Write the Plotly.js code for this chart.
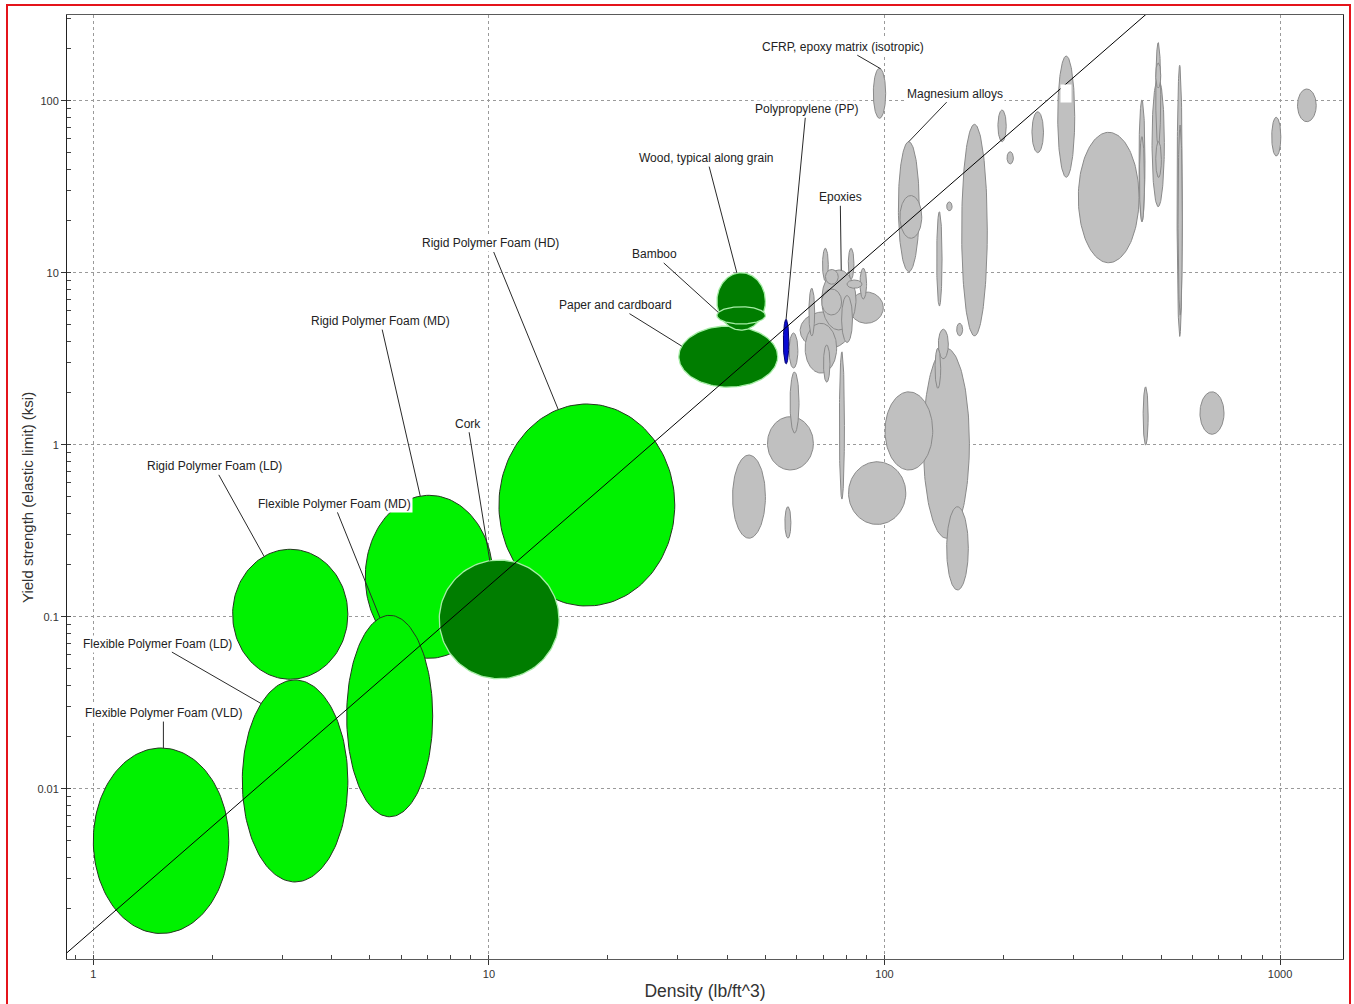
<!DOCTYPE html>
<html>
<head>
<meta charset="utf-8">
<script src="https://cdn.plot.ly/plotly-3.0.1.min.js"></script>
<style>
  html, body { margin: 0; padding: 0; background: #fff; overflow: hidden; }
  #chart { position: absolute; left: 0; top: 0; width: 1354px; height: 1004px; }
  #frame { position: absolute; left: 6px; top: 4px; width: 1341px; height: 1010px;
           border: 2px solid #e4141b; pointer-events: none; }
</style>
</head>
<body>
<div id="chart"></div>
<div id="frame"></div>
<script>
// Material property bubbles: density range (lb/ft^3) and yield strength range (ksi).
// Each bubble spans [rhoLo, rhoHi] x [sigLo, sigHi]; family picks the colour.
const matName = [
  // other materials (grey)
  "CFRP, epoxy matrix (isotropic)", "Magnesium alloys", "", "", "", "", "", "", "", "",
  "", "", "", "", "", "", "", "", "", "",
  "", "", "", "", "", "", "", "", "", "",
  "", "", "", "", "",
  // polymer / composite cluster (grey)
  "", "", "", "Epoxies", "", "", "", "", "", "", "", "", "",
  // highlighted materials
  "Flexible Polymer Foam (VLD)", "Flexible Polymer Foam (LD)", "Rigid Polymer Foam (LD)",
  "Rigid Polymer Foam (MD)", "Flexible Polymer Foam (MD)", "Rigid Polymer Foam (HD)",
  "Cork", "Paper and cardboard", "Wood, typical along grain", "Bamboo", "Polypropylene (PP)"
];
const rhoLo = [
  93.7, 108.4, 109.4, 135.5, 143.6, 156.7, 152.2, 125.3, 136.8, 134.2,
  100.3, 81.1, 143.6, 50.6, 41.3, 56.0, 76.9, 57.4, 57.7, 450.6,
  627.1, 193.5, 204.0, 235.9, 274.1, 309.0, 439.9, 441.0, 474.5, 484.9,
  484.9, 484.9, 549.0, 552.1, 952.3,
  61.2, 63.0, 81.6, 69.4, 64.4, 69.4, 77.9, 70.1, 69.7, 81.0, 86.7, 80.4, 70.9,
  1.0, 2.38, 2.25, 4.87, 4.37, 10.6, 7.49, 30.2, 37.7, 37.7, 55.5
];
const rhoHi = [
  100.7, 122.4, 124.2, 139.8, 148.2, 181.9, 157.6, 163.9, 145.0, 138.7,
  132.4, 113.2, 162.9, 66.1, 50.0, 58.0, 79.2, 60.4, 60.8, 463.9,
  721.5, 203.1, 211.7, 252.3, 302.6, 439.9, 455.4, 454.0, 509.8, 499.2,
  501.0, 499.2, 566.0, 566.0, 1004.2,
  81.8, 75.7, 99.3, 84.7, 66.6, 77.9, 83.0, 72.8, 72.1, 83.7, 90.1, 87.7, 76.4,
  2.20, 4.40, 4.40, 10.24, 7.21, 29.5, 15.04, 53.7, 50.0, 50.0, 57.3
];
const sigLo = [
  79.0, 10.14, 15.85, 6.40, 22.9, 4.29, 4.30, 0.286, 3.16, 2.13,
  0.713, 0.344, 0.143, 0.713, 0.286, 0.286, 0.483, 2.79, 1.17, 0.996,
  1.15, 57.8, 42.9, 49.9, 35.9, 11.43, 19.8, 19.8, 24.2, 54.5,
  35.8, 118.5, 4.26, 5.67, 47.7,
  3.60, 2.61, 5.08, 4.65, 4.29, 5.68, 3.93, 2.31, 8.95, 9.19, 7.03, 8.12, 8.57,
  0.00144, 0.00287, 0.0433, 0.0573, 0.00687, 0.1154, 0.0436, 2.16, 4.64, 5.03, 2.95
];
const sigHi = [
  154.3, 57.8, 28.1, 22.6, 25.8, 72.9, 5.08, 3.64, 4.69, 3.64,
  2.03, 0.796, 0.436, 1.456, 0.871, 0.436, 3.47, 4.46, 2.65, 2.17,
  2.03, 88.3, 50.5, 86.3, 182, 65.5, 101, 61.8, 135.0, 217.9,
  57.8, 165.6, 160.6, 72.2, 80.1,
  5.93, 5.08, 7.72, 10.37, 8.12, 8.04, 7.37, 3.80, 13.87, 13.87, 10.61, 9.07, 10.44,
  0.01725, 0.0429, 0.2466, 0.508, 0.1019, 1.725, 0.2136, 4.90, 10.0, 6.34, 5.36
];
const family = [
  "other", "other", "other", "other", "other", "other", "other", "other", "other", "other",
  "other", "other", "other", "other", "other", "other", "other", "other", "other", "other",
  "other", "other", "other", "other", "other", "other", "other", "other", "other", "other",
  "other", "other", "other", "other", "other",
  "other", "other", "other", "other", "other", "other", "other", "other", "other", "other", "other", "other", "other",
  "foam", "foam", "foam", "foam", "foam", "foam",
  "natural", "natural", "natural", "natural", "polymer"
];
// Grey bubble on the far right
const extraRhoLo = [1106.6], extraRhoHi = [1234.0], extraSigLo = [75.5], extraSigHi = [117.0];

// Guide line of slope 2 on the log-log plot
const guideRho = [0.85, 460];
const guideSigma = [0.001093, 320.2];

// Axis ticks
const xTickVals = [1, 10, 100, 1000];
const xTickText = ["1", "10", "100", "1000"];
const yTickVals = [0.01, 0.1, 1, 10, 100];
const yTickText = ["0.01", "0.1", "1", "10", "100"];

// ---- styling ----
const familyStyle = {
  other:   { fill: "#c0c0c0", line: "#8a8a8a", width: 1 },
  foam:    { fill: "#00f200", line: "#24361f", width: 1 },
  natural: { fill: "#007d00", line: "#a6eda6", width: 1.3 },
  polymer: { fill: "#0a0ad2", line: "#00006e", width: 1 }
};

// Callout placement: point on the bubble rim (angle, deg) and text offset (px)
const callouts = [
  { name: "CFRP, epoxy matrix (isotropic)", angle: 80,  ax: -38,  ay: -22 },
  { name: "Magnesium alloys",               angle: 90,  ax: 46,   ay: -48 },
  { name: "Polypropylene (PP)",             angle: 90,  ax: 20,   ay: -210 },
  { name: "Wood, typical along grain",      angle: 100, ax: -30,  ay: -115 },
  { name: "Epoxies",                        angle: 82,  ax: -1,   ay: -73 },
  { name: "Bamboo",                         angle: 160, ax: -64,  ay: -58 },
  { name: "Paper and cardboard",            angle: 160, ax: -66,  ay: -41 },
  { name: "Rigid Polymer Foam (HD)",        angle: 109, ax: -68,  ay: -166 },
  { name: "Rigid Polymer Foam (MD)",        angle: 98,  ax: -40,  ay: -175 },
  { name: "Cork",                           angle: 99,  ax: -22,  ay: -137 },
  { name: "Rigid Polymer Foam (LD)",        angle: 117, ax: -50,  ay: -90 },
  { name: "Flexible Polymer Foam (MD)",     angle: 103, ax: -46,  ay: -114 },
  { name: "Flexible Polymer Foam (LD)",     angle: 130, ax: -104, ay: -60 },
  { name: "Flexible Polymer Foam (VLD)",    angle: 88,  ax: 0,    ay: -35 }
];

const FONT = "Liberation Sans, Arial, sans-serif";
const log10 = Math.log10;

function bubble(lo, hi, lo2, hi2) {
  const cx = (log10(lo) + log10(hi)) / 2, rx = (log10(hi) - log10(lo)) / 2;
  const cy = (log10(lo2) + log10(hi2)) / 2, ry = (log10(hi2) - log10(lo2)) / 2;
  return { cx, cy, rx, ry };
}

function outline(b, n) {
  const xs = [], ys = [];
  for (let i = 0; i <= n; i++) {
    const t = 2 * Math.PI * i / n;
    xs.push(Math.pow(10, b.cx + b.rx * Math.cos(t)));
    ys.push(Math.pow(10, b.cy + b.ry * Math.sin(t)));
  }
  return { xs, ys };
}

function bubbleTrace(lo, hi, lo2, hi2, fam, name) {
  const b = bubble(lo, hi, lo2, hi2);
  const o = outline(b, 140);
  const st = familyStyle[fam];
  return {
    type: "scatter", mode: "lines", x: o.xs, y: o.ys,
    fill: "toself", fillcolor: st.fill,
    line: { color: st.line, width: st.width },
    name: name || "", hoverinfo: name ? "name" : "skip", showlegend: false
  };
}

const traces = [];
for (let i = 0; i < extraRhoLo.length; i++) {
  traces.push(bubbleTrace(extraRhoLo[i], extraRhoHi[i], extraSigLo[i], extraSigHi[i], "other", ""));
}
for (let i = 0; i < matName.length; i++) {
  traces.push(bubbleTrace(rhoLo[i], rhoHi[i], sigLo[i], sigHi[i], family[i], matName[i]));
}
traces.push({
  type: "scatter", mode: "lines", x: guideRho, y: guideSigma,
  line: { color: "#000", width: 1 }, hoverinfo: "skip", showlegend: false
});

const annotations = callouts.map(c => {
  const i = matName.indexOf(c.name);
  const b = bubble(rhoLo[i], rhoHi[i], sigLo[i], sigHi[i]);
  const a = c.angle * Math.PI / 180;
  return {
    x: b.cx + b.rx * Math.cos(a), y: b.cy + b.ry * Math.sin(a),
    xref: "x", yref: "y", text: c.name,
    showarrow: true, arrowhead: 0, arrowwidth: 1, arrowcolor: "#2a2a2a",
    standoff: 0, ax: c.ax, ay: c.ay,
    bgcolor: "#ffffff", borderpad: 1,
    font: { family: FONT, size: 12, color: "#222" }
  };
});

// Empty white callout box sitting on the tall bubble near 100 ksi
(function () {
  const i = 24;
  const b = bubble(rhoLo[i], rhoHi[i], sigLo[i], sigHi[i]);
  annotations.push({
    x: b.cx, y: b.cy, xref: "x", yref: "y", text: "\u00a0\u00a0",
    showarrow: false, yshift: 23, bgcolor: "#ffffff", borderpad: 1.5,
    font: { family: FONT, size: 12, color: "#222" }
  });
})();

// Vertical axis title
annotations.push({
  xref: "paper", yref: "paper", x: 0, y: 0.5, xshift: -40, yshift: -11,
  xanchor: "center", yanchor: "middle", textangle: -90, showarrow: false,
  text: "Yield strength (elastic limit) (ksi)",
  font: { family: FONT, size: 15, color: "#333" }
});

const axisCommon = {
  type: "log", ticks: "outside", ticklen: 5, tickcolor: "#333", tickwidth: 1,
  showgrid: true, gridcolor: "#9a9a9a", gridwidth: 1, griddash: "3px,3px",
  zeroline: false, showline: true, linewidth: 1, mirror: true,
  minor: { ticks: "inside", ticklen: 4, tickcolor: "#444", dtick: "D1", showgrid: false },
  tickfont: { family: FONT, size: 11, color: "#333" },
  automargin: false, fixedrange: true
};

const layout = {
  width: 1354, height: 1004,
  margin: { l: 67, r: 11, t: 15, b: 45 },
  paper_bgcolor: "#fff", plot_bgcolor: "#fff",
  showlegend: false, hovermode: "closest",
  font: { family: FONT, color: "#333" },
  xaxis: Object.assign({}, axisCommon, {
    range: [-0.0665, 3.159], tickmode: "array", tickvals: xTickVals, ticktext: xTickText,
    linecolor: "#5a5a5a",
    title: { text: "Density (lb/ft^3)", font: { family: FONT, size: 17.5, color: "#333" }, standoff: 5 }
  }),
  yaxis: Object.assign({}, axisCommon, {
    range: [-2.990, 2.4983], tickmode: "array", tickvals: yTickVals, ticktext: yTickText,
    linecolor: "#222"
  }),
  annotations: annotations
};

Plotly.newPlot("chart", traces, layout, { displayModeBar: false });
</script>
</body>
</html>
